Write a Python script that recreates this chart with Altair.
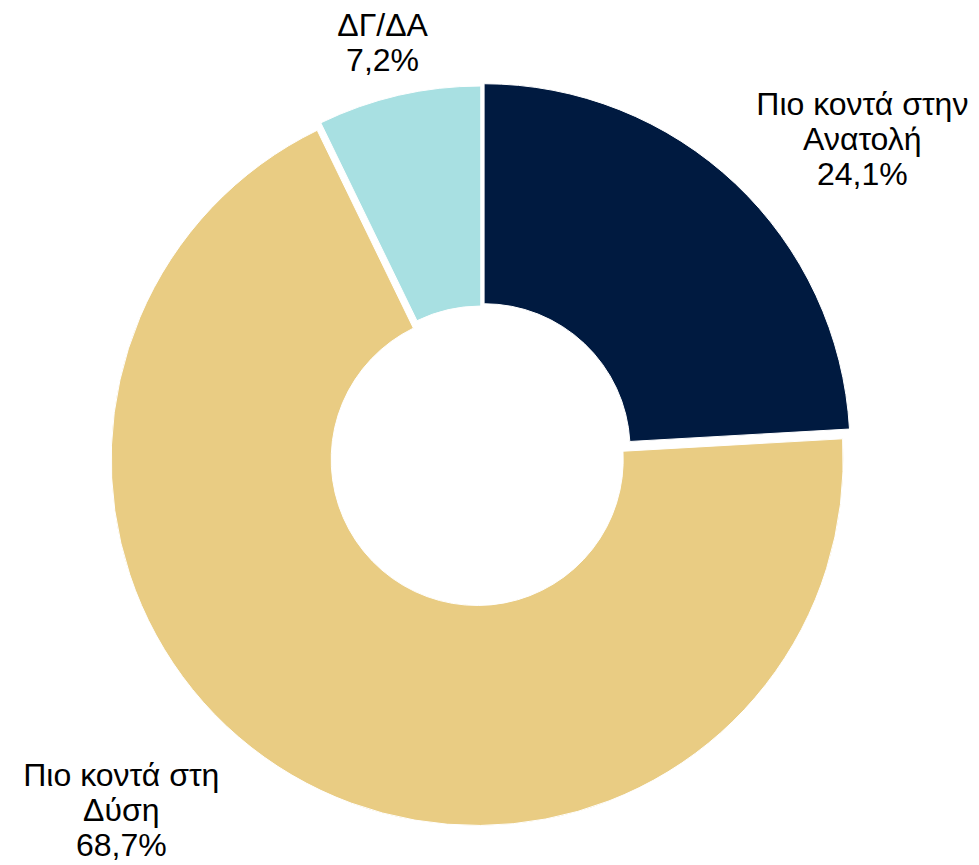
import math
import altair as alt
import pandas as pd

# ---- data ----
categories = ["Πιο κοντά στην Ανατολή", "Πιο κοντά στη Δύση", "ΔΓ/ΔΑ"]
label_names = ["Πιο κοντά στην\nΑνατολή", "Πιο κοντά στη\nΔύση", "ΔΓ/ΔΑ"]
shares = [24.1, 68.7, 7.2]

# ---- style ----
colors = ["#001A40", "#E9CC83", "#A8E0E2"]
explode = [4.5, 7.5, 1.0]          # slice explosion in px
label_dx = [86, -142, -2]          # label nudges in px
label_dy = [-35, -48, -8]

CX, CY = 473, 445
R_OUT, R_IN = 366, 146
R_LABEL = 430

df = pd.DataFrame({
    "category": categories,
    "name": label_names,
    "share": shares,
    "order": list(range(len(categories))),
    "explode": explode,
    "ldx": label_dx,
    "ldy": label_dy,
})

base = (
    alt.Chart(df)
    .transform_window(cum="sum(share)", sort=[alt.SortField("order")], frame=[None, 0])
    .transform_joinaggregate(total="sum(share)")
    .transform_calculate(
        t1="(datum.cum - datum.share) / datum.total",
        t2="datum.cum / datum.total",
    )
    .transform_calculate(mid="PI * (datum.t1 + datum.t2)")
    .transform_calculate(
        px=f"{CX} + datum.explode * sin(datum.mid)",
        py=f"{CY} - datum.explode * cos(datum.mid)",
        lx=f"{CX} + {R_LABEL} * sin(datum.mid) + datum.ldx",
        ly=f"{CY} - {R_LABEL} * cos(datum.mid) + datum.ldy",
        label="datum.name + '\\n' + replace(format(datum.share, '.1f'), '.', ',') + '%'",
    )
)

arcs = base.mark_arc(
    outerRadius=R_OUT, innerRadius=R_IN, stroke="white", strokeWidth=1
).encode(
    theta=alt.Theta("t1:Q", scale=alt.Scale(domain=[0, 1], range=[0, 2 * math.pi]), stack=None),
    theta2="t2:Q",
    x=alt.X("px:Q", scale=None, axis=None),
    y=alt.Y("py:Q", scale=None, axis=None),
    color=alt.Color("category:N", scale=alt.Scale(domain=categories, range=colors), legend=None),
    order=alt.Order("order:Q"),
)

labels = base.mark_text(
    font="Liberation Sans", fontSize=32, lineBreak="\n", lineHeight=35,
    align="center", baseline="middle", color="black",
).encode(
    x=alt.X("lx:Q", scale=None, axis=None),
    y=alt.Y("ly:Q", scale=None, axis=None),
    text="label:N",
)

chart = (
    alt.layer(arcs, labels)
    .properties(width=963, height=857, autosize="none", padding=0)
    .configure_view(strokeWidth=0)
)

chart.save("out.html", embed_options={"renderer": "svg", "actions": False})
